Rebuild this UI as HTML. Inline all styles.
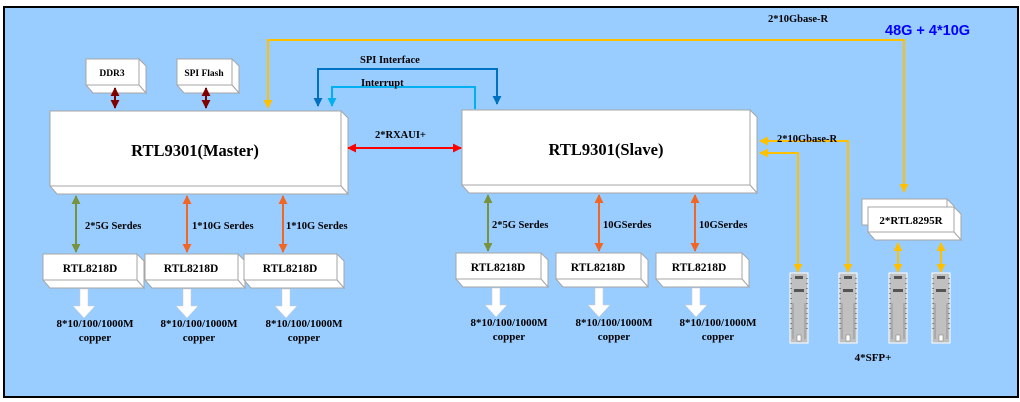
<!DOCTYPE html>
<html><head><meta charset="utf-8"><style>
html,body{margin:0;padding:0;background:#fff;}
svg{display:block;}
text{font-family:"Liberation Serif",serif;font-weight:bold;fill:#000;}
</style></head><body>
<svg width="1020" height="402" viewBox="0 0 1020 402" xmlns="http://www.w3.org/2000/svg">
<defs>
<marker id="ay" viewBox="0 0 10 10" refX="9" refY="5" markerWidth="4.5" markerHeight="4.5" orient="auto-start-reverse"><path d="M0,0L10,5L0,10z" fill="#FFC000"/></marker>
<marker id="ab" viewBox="0 0 10 10" refX="9" refY="5" markerWidth="4.5" markerHeight="4.5" orient="auto-start-reverse"><path d="M0,0L10,5L0,10z" fill="#0070C0"/></marker>
<marker id="ac" viewBox="0 0 10 10" refX="9" refY="5" markerWidth="4.5" markerHeight="4.5" orient="auto-start-reverse"><path d="M0,0L10,5L0,10z" fill="#00B0F0"/></marker>
<marker id="ar" viewBox="0 0 10 10" refX="9" refY="5" markerWidth="4.5" markerHeight="4.5" orient="auto-start-reverse"><path d="M0,0L10,5L0,10z" fill="#FF0000"/></marker>
<marker id="ad" viewBox="0 0 10 10" refX="9" refY="5" markerWidth="4.5" markerHeight="4.5" orient="auto-start-reverse"><path d="M0,0L10,5L0,10z" fill="#800000"/></marker>
<marker id="ag" viewBox="0 0 10 10" refX="9" refY="5" markerWidth="4.5" markerHeight="4.5" orient="auto-start-reverse"><path d="M0,0L10,5L0,10z" fill="#77933C"/></marker>
<marker id="ao" viewBox="0 0 10 10" refX="9" refY="5" markerWidth="4.5" markerHeight="4.5" orient="auto-start-reverse"><path d="M0,0L10,5L0,10z" fill="#F26522"/></marker>
<g id="sfp">
<rect x="0" y="0" width="18" height="70" fill="#c0c0c0" stroke="#fff" stroke-width="1"/>
<rect x="5" y="3" width="8" height="3" fill="#555"/>
<rect x="4" y="16" width="10" height="3" fill="#555"/>
<line x1="3" y1="30" x2="3" y2="66" stroke="#777" stroke-width="0.6"/>
<line x1="15" y1="30" x2="15" y2="66" stroke="#777" stroke-width="0.6"/>
<rect x="7" y="62" width="4" height="6" fill="#fff" stroke="#777" stroke-width="0.5"/>
<line x1="1" y1="5" x2="1" y2="60" stroke="#333" stroke-width="1" stroke-dasharray="1,4"/>
<line x1="17" y1="5" x2="17" y2="60" stroke="#333" stroke-width="1" stroke-dasharray="1,4"/>
</g>
</defs>
<rect x="0" y="0" width="1020" height="402" fill="#fff"/>
<rect x="4" y="7" width="1014" height="390" fill="#99CCFF" stroke="#000" stroke-width="2"/>

<g stroke="#A6A6A6" stroke-width="1" fill="#fff">
<polygon points="139,59 146,66 146,93 139,85"/><polygon points="86,85 139,85 146,93 93,93"/><rect x="86" y="59" width="53" height="26"/>
<polygon points="232,59 239,66 239,93 232,85"/><polygon points="177,85 232,85 239,93 184,93"/><rect x="177" y="59" width="55" height="26"/>
<polygon points="341,111 348,118 348,194 341,186"/><polygon points="50,186 341,186 348,194 57,194"/><rect x="50" y="111" width="291" height="75"/>
<polygon points="750,110 757,117 757,193 750,185"/><polygon points="462,185 750,185 757,193 469,193"/><rect x="462" y="110" width="288" height="75"/>
<polygon points="137,254 144,261 144,288 137,280"/><polygon points="43,280 137,280 144,288 50,288"/><rect x="43" y="254" width="94" height="26"/>
<polygon points="238,254 245,261 245,288 238,280"/><polygon points="145,280 238,280 245,288 152,288"/><rect x="145" y="254" width="93" height="26"/>
<polygon points="337,254 344,261 344,288 337,280"/><polygon points="244,280 337,280 344,288 251,288"/><rect x="244" y="254" width="93" height="26"/>
<polygon points="541,253 548,260 548,287 541,279"/><polygon points="456,279 541,279 548,287 463,287"/><rect x="456" y="253" width="85" height="26"/>
<polygon points="641,253 648,260 648,287 641,279"/><polygon points="556,279 641,279 648,287 563,287"/><rect x="556" y="253" width="85" height="26"/>
<polygon points="742,253 749,260 749,287 742,279"/><polygon points="656,279 742,279 749,287 663,287"/><rect x="656" y="253" width="86" height="26"/>
<polygon points="947,199 954,206 954,233 947,225"/><rect x="862" y="199" width="85" height="26"/>
<polygon points="954,207 961,214 961,240 954,232"/><polygon points="868,232 954,232 961,240 875,240"/><rect x="868" y="207" width="86" height="25"/>
</g>

<g text-anchor="middle">
<text x="112" y="76" font-size="9.5">DDR3</text>
<text x="204" y="76" font-size="9.5">SPI Flash</text>
<text x="195" y="156" font-size="16.5">RTL9301(Master)</text>
<text x="606" y="155" font-size="16.5">RTL9301(Slave)</text>
<text x="90" y="272" font-size="11.5">RTL8218D</text>
<text x="191" y="272" font-size="11.5">RTL8218D</text>
<text x="290" y="272" font-size="11.5">RTL8218D</text>
<text x="498" y="271" font-size="11.5">RTL8218D</text>
<text x="598" y="271" font-size="11.5">RTL8218D</text>
<text x="699" y="271" font-size="11.5">RTL8218D</text>
<text x="911" y="224" font-size="11">2*RTL8295R</text>
</g>

<g stroke="#800000" stroke-width="2" fill="none">
<line x1="115" y1="88" x2="115" y2="108" marker-start="url(#ad)" marker-end="url(#ad)"/>
<line x1="206" y1="88" x2="206" y2="108" marker-start="url(#ad)" marker-end="url(#ad)"/>
</g>

<g stroke="#FFC000" stroke-width="2" fill="none">
<polyline points="904,192 904,40 268,40 268,108" marker-end="url(#ay)"/>
<polyline points="848,272 848,141 760,141" marker-start="url(#ay)" marker-end="url(#ay)"/>
<polyline points="798,272 798,153 760,153" marker-start="url(#ay)" marker-end="url(#ay)"/>
<line x1="898" y1="243" x2="898" y2="272" marker-start="url(#ay)" marker-end="url(#ay)"/>
<line x1="941" y1="243" x2="941" y2="272" marker-start="url(#ay)" marker-end="url(#ay)"/>
</g>
<line x1="904" y1="40" x2="904" y2="192" stroke="#FFC000" stroke-width="2" marker-end="url(#ay)"/>

<polyline points="497,104 497,69 318,69 318,106" stroke="#0070C0" stroke-width="2" fill="none" marker-start="url(#ab)" marker-end="url(#ab)"/>
<polyline points="475,109 475,87 332,87 332,106" stroke="#00B0F0" stroke-width="2" fill="none" marker-end="url(#ac)"/>

<line x1="348" y1="148" x2="461" y2="148" stroke="#FF0000" stroke-width="2" marker-start="url(#ar)" marker-end="url(#ar)"/>

<g stroke-width="2" fill="none">
<line x1="76" y1="196" x2="76" y2="252" stroke="#77933C" marker-start="url(#ag)" marker-end="url(#ag)"/>
<line x1="187" y1="196" x2="187" y2="252" stroke="#F26522" marker-start="url(#ao)" marker-end="url(#ao)"/>
<line x1="283" y1="196" x2="283" y2="252" stroke="#F26522" marker-start="url(#ao)" marker-end="url(#ao)"/>
<line x1="488" y1="195" x2="488" y2="251" stroke="#77933C" marker-start="url(#ag)" marker-end="url(#ag)"/>
<line x1="599" y1="195" x2="599" y2="251" stroke="#F26522" marker-start="url(#ao)" marker-end="url(#ao)"/>
<line x1="695" y1="195" x2="695" y2="251" stroke="#F26522" marker-start="url(#ao)" marker-end="url(#ao)"/>
</g>

<g fill="#fff" stroke="#ccc" stroke-width="0.5">
<path d="M80,289h8v17h7l-11,12l-11,-12h7z"/>
<path d="M183,289h8v17h7l-11,12l-11,-12h7z"/>
<path d="M282,289h8v17h7l-11,12l-11,-12h7z"/>
<path d="M492,288h8v17h7l-11,12l-11,-12h7z"/>
<path d="M595,288h8v17h7l-11,12l-11,-12h7z"/>
<path d="M692,288h8v17h7l-11,12l-11,-12h7z"/>
</g>

<g font-size="10.5">
<text x="85" y="229">2*5G Serdes</text>
<text x="192" y="229">1*10G Serdes</text>
<text x="286" y="229">1*10G Serdes</text>
<text x="492" y="228">2*5G Serdes</text>
<text x="603" y="228">10GSerdes</text>
<text x="699" y="228">10GSerdes</text>
<text x="360" y="63">SPI Interface</text>
<text x="361" y="86">Interrupt</text>
<text x="375" y="138">2*RXAUI+</text>
<text x="768" y="22">2*10Gbase-R</text>
<text x="777" y="142">2*10Gbase-R</text>
</g>
<g font-size="11" text-anchor="middle">
<text x="95" y="327">8*10/100/1000M</text><text x="95" y="341">copper</text>
<text x="199" y="327">8*10/100/1000M</text><text x="199" y="341">copper</text>
<text x="304" y="327">8*10/100/1000M</text><text x="304" y="341">copper</text>
<text x="509" y="326">8*10/100/1000M</text><text x="509" y="340">copper</text>
<text x="614" y="326">8*10/100/1000M</text><text x="614" y="340">copper</text>
<text x="718" y="326">8*10/100/1000M</text><text x="718" y="340">copper</text>
<text x="873" y="361">4*SFP+</text>
</g>
<text x="885" y="35" font-size="14.5" style="font-family:'Liberation Sans',sans-serif;fill:#0000FF">48G + 4*10G</text>

<use href="#sfp" x="790" y="273"/>
<use href="#sfp" x="839" y="273"/>
<use href="#sfp" x="889" y="273"/>
<use href="#sfp" x="932" y="273"/>
</svg>
</body></html>
